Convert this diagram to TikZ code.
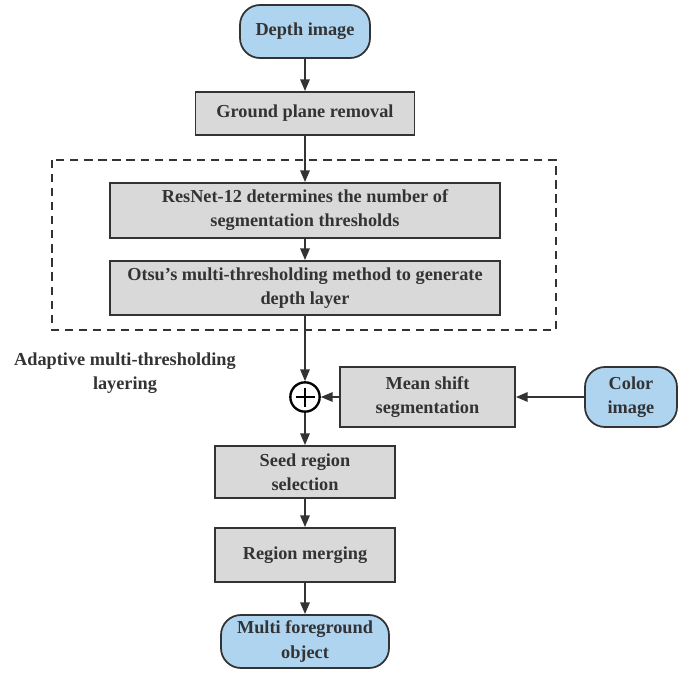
\documentclass[tikz,border=0pt]{standalone}
\usepackage{fontspec}
\setmainfont{Liberation Serif}
\usetikzlibrary{arrows.meta,calc}
\definecolor{inkgray}{HTML}{333333}
\definecolor{boxgray}{HTML}{D9D9D9}
\definecolor{termblue}{HTML}{AED4F0}
\tikzset{
	stepbox/.style={draw=inkgray, line width=1.5pt, fill=boxgray, text=inkgray, align=center, inner sep=0pt, font=\fontsize{15.6}{20.5}\selectfont\bfseries},
	termbox/.style={stepbox, fill=termblue, rounded corners=0.6cm},
	flow/.style={draw=inkgray, line width=1.5pt, -{Triangle[length=10pt,width=8pt]}}
}

\begin{document}
\begin{tikzpicture}[x=0.03cm, y=-0.03cm]
			%%%%% START %%%%%
			
			\useasboundingbox (0, 0) rectangle (686, 673);
			
			\node[termbox, minimum width=3.9cm, minimum height=1.59cm] (depth) at (305, 31.5) {Depth image};
			\node[stepbox, minimum width=6.57cm, minimum height=1.29cm] (ground) at (305, 113.5) {Ground plane removal};
			
			\draw[inkgray, line width=1pt, dash pattern=on 7pt off 5pt] (52, 160) rectangle (556, 330);
			
			\node[stepbox, minimum width=11.7cm, minimum height=1.65cm] (resnet) at (305, 210.5) {ResNet-12 determines the number of\\segmentation thresholds};
			\node[stepbox, minimum width=11.7cm, minimum height=1.62cm] (otsu) at (305, 288) {Otsu's multi-thresholding method to generate\\depth layer};
			
			\node[text=inkgray, align=center, font=\fontsize{15.6}{20.5}\selectfont\bfseries] (adaptive) at (125, 373) {Adaptive multi-thresholding\\layering};
			
			\node[draw=black, line width=2pt, circle, fill=white, minimum size=0.88cm, inner sep=0pt] (sum) at (305, 397) {};
			\draw[black, line width=2pt] ($(sum.center)+(-9.5, 0)$) -- ($(sum.center)+(9.5, 0)$);
			\draw[black, line width=2pt] ($(sum.center)+(0, -9.5)$) -- ($(sum.center)+(0, 9.5)$);
			
			\node[stepbox, minimum width=5.25cm, minimum height=1.8cm] (mean) at (427.5, 397) {Mean shift\\segmentation};
			\node[termbox, minimum width=2.76cm, minimum height=1.8cm] (color) at (631, 397) {Color\\image};
			
			\node[stepbox, minimum width=5.4cm, minimum height=1.56cm] (seed) at (305, 472) {Seed region\\selection};
			\node[stepbox, minimum width=5.4cm, minimum height=1.62cm] (merge) at (305, 555) {Region merging};
			\node[termbox, minimum width=5.04cm, minimum height=1.59cm] (multi) at (305, 641.5) {Multi foreground\\object};
			
			\draw[flow] (depth) -- (ground);
			\draw[flow] (ground) -- (resnet);
			\draw[flow] (resnet) -- (otsu);
			\draw[flow] (otsu) -- (sum);
			\draw[flow] (color) -- (mean);
			\draw[flow] (mean) -- (sum);
			\draw[flow] (sum) -- (seed);
			\draw[flow] (seed) -- (merge);
			\draw[flow] (merge) -- (multi);
			
			%%%%% END %%%%%
		\end{tikzpicture}
\end{document}
